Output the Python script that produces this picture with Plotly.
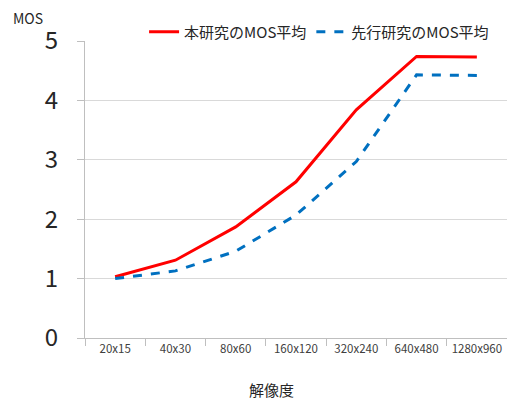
import plotly.graph_objects as go

categories = ["20x15", "40x30", "80x60", "160x120", "320x240", "640x480", "1280x960"]
ours = [1.03, 1.31, 1.87, 2.63, 3.84, 4.74, 4.73]
prior = [1.00, 1.13, 1.46, 2.07, 2.97, 4.43, 4.42]
series_names = ["本研究のMOS平均", "先行研究のMOS平均"]
y_ticks = [0, 1, 2, 3, 4, 5]

FONT = "Noto Sans CJK JP"

fig = go.Figure()
fig.add_trace(go.Scatter(x=categories, y=ours, mode="lines", name=series_names[0],
                         line=dict(color="#ff0000", width=3)))
fig.add_trace(go.Scatter(x=categories, y=prior, mode="lines", name=series_names[1],
                         line=dict(color="#0070c0", width=3, dash="dash")))

fig.update_layout(
    width=507, height=401,
    margin=dict(l=85, r=0, t=41, b=63),
    paper_bgcolor="white", plot_bgcolor="white",
    font=dict(family=FONT, color="#262626"),
    showlegend=True,
    legend=dict(orientation="h", x=0.14, xanchor="left", y=1.03, yanchor="middle",
                font=dict(size=15, family=FONT), bgcolor="rgba(0,0,0,0)",
                itemwidth=30, tracegroupgap=0),
    xaxis=dict(type="category", range=[-0.5, 6.5], tickson="boundaries",
               ticks="outside", ticklen=7, tickcolor="#bfbfbf",
               showline=True, linecolor="#bfbfbf", linewidth=1,
               tickangle=0, automargin=False,
               showgrid=False, tickfont=dict(size=11.5, family=FONT, color="#404040")),
    yaxis=dict(range=[0, 5], tickvals=y_ticks, ticks="outside", ticklen=7,
               tickcolor="#bfbfbf", showline=True, linecolor="#bfbfbf",
               gridcolor="#d9d9d9", zeroline=False, automargin=False,
               tickfont=dict(size=24, family=FONT, color="#262626"),
               ticklabelstandoff=14),
    annotations=[
        dict(text="MOS", xref="paper", yref="paper", x=-0.135, y=1.077,
             xanchor="center", yanchor="middle", showarrow=False,
             font=dict(size=14, family=FONT, color="#262626")),
        dict(text="解像度", xref="paper", yref="paper", x=0.443, y=-0.175,
             xanchor="center", yanchor="middle", showarrow=False,
             font=dict(size=15, family=FONT, color="#262626")),
    ],
)

fig.write_html("out.html")
